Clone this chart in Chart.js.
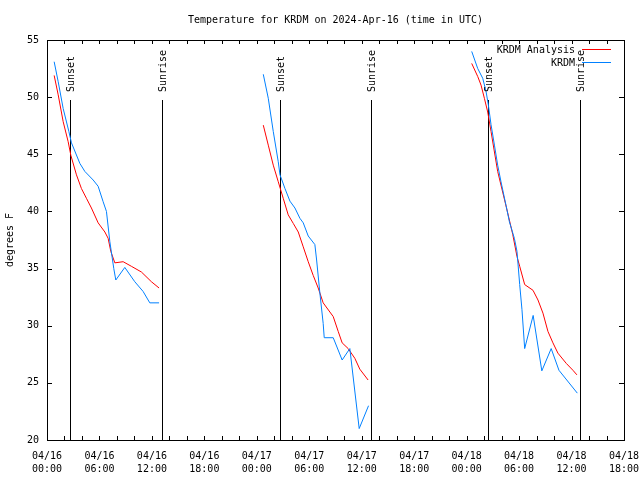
<!DOCTYPE html>
<html>
<head>
<meta charset="utf-8">
<script src="https://cdn.jsdelivr.net/npm/chart.js@4.4.1/dist/chart.umd.min.js"></script>
<style>
  html, body { margin: 0; padding: 0; background: #fff; }
  canvas { display: block; }
</style>
</head>
<body>
<canvas id="tempChart" width="640" height="480"></canvas>
<script>
// hours since 04/16 00:00 UTC, null = gap between nights
const analysisHours = [0.82, 1.28, 1.85, 2.42, 2.73, 3.37, 3.94, 4.51, 5.08, 5.85, 6.62, 6.99, 7.30, 7.76, 8.71, 9.65, 10.80, 11.94, 12.82, 18,
    24.74, 25.31, 25.88, 26.45, 27.02, 27.59, 28.17, 28.74, 29.31, 29.88, 30.45, 31.02, 31.59, 32.74, 33.31, 33.76, 34.45, 35.21, 35.78, 36.73, 42,
    48.58, 49.27, 49.65, 50.03, 50.41, 50.79, 51.18, 51.55, 52.12, 52.69, 53.27, 53.76, 54.07, 54.64, 55.59, 56.16, 56.73, 57.30, 57.87, 58.44, 59.40, 60.16, 60.61]
const analysisTemps = [51.9, 50.2, 47.85, 46.1, 44.9, 43.2, 42.0, 41.15, 40.3, 39.0, 38.2, 37.65, 36.5, 35.5, 35.6, 35.2, 34.7, 33.85, 33.3, null,
    47.55, 45.8, 44.05, 42.6, 41.15, 39.7, 38.95, 38.2, 36.9, 35.6, 34.4, 33.3, 32.0, 30.8, 29.5, 28.5, 28.0, 27.15, 26.2, 25.25, null,
    52.95, 51.8, 51.05, 49.9, 48.7, 47.0, 45.2, 43.5, 41.7, 39.9, 38.0, 36.05, 35.2, 33.6, 33.1, 32.25, 31.1, 29.5, 28.5, 27.6, 26.7, 26.1, 25.7]

const obsHours = [0.82, 1.28, 1.85, 2.50, 2.80, 3.76, 4.33, 5.28, 5.85, 6.42, 6.80, 7.19, 7.64, 7.87, 8.90, 10.04, 10.99, 11.76, 12.82, 18,
    24.74, 25.31, 25.88, 26.45, 26.65, 27.22, 27.79, 28.36, 28.93, 29.31, 29.88, 30.64, 30.84, 31.22, 31.59, 31.71, 32.74, 33.76, 34.64, 35.71, 36.78, 42,
    48.58, 49.27, 49.84, 50.22, 50.49, 50.79, 51.18, 51.55, 51.93, 52.50, 52.89, 53.46, 53.76, 54.07, 54.33, 54.64, 55.61, 56.60, 57.67, 58.56, 60.66]
const obsTemps = [53.1, 51.35, 49.0, 47.0, 46.0, 44.2, 43.5, 42.75, 42.2, 40.85, 40.0, 37.35, 35.0, 34.0, 35.1, 33.85, 33.0, 32.0, 32.0, null,
    52.0, 49.9, 47.0, 44.35, 43.2, 42.0, 40.9, 40.3, 39.4, 39.0, 37.85, 37.1, 35.75, 32.8, 30.2, 28.95, 28.95, 27.0, 28.0, 21.0, 23.0, null,
    54.0, 52.5, 51.65, 50.5, 49.3, 47.6, 45.8, 44.05, 42.6, 40.55, 39.1, 37.65, 36.5, 33.6, 31.4, 28.0, 30.9, 26.05, 28.0, 26.1, 24.1]

const sunHours = [2.65, 13.17, 26.6, 37.1, 50.5, 61.0]
const sunLabels = ['Sunset', 'Sunrise', 'Sunset', 'Sunrise', 'Sunset', 'Sunrise']
const sunLineTop = 49.75

const labelHours = [0, 6, 12, 18, 24, 30, 36, 42, 48, 54, 60, 66]
const labelDates = ['04/16', '04/16', '04/16', '04/16', '04/17', '04/17', '04/17', '04/17', '04/18', '04/18', '04/18', '04/18']
const labelTimes = ['00:00', '06:00', '12:00', '18:00', '00:00', '06:00', '12:00', '18:00', '00:00', '06:00', '12:00', '18:00']
const minorStep = 2

const yMin = 20
const yMax = 55
const yStep = 5

const titleText = 'Temperature for KRDM on 2024-Apr-16 (time in UTC)'
const FONT = '"DejaVu Sans Mono", "Liberation Mono", monospace'

function toPoints(hours, temps) {
    return hours.map((h, i) => ({ x: h, y: temps[i] }))
}

let datasets = [
    {
        label: 'KRDM Analysis', data: toPoints(analysisHours, analysisTemps),
        borderColor: '#ff0000', borderWidth: 1, order: 1
    },
    {
        label: 'KRDM', data: toPoints(obsHours, obsTemps),
        borderColor: '#0080ff', borderWidth: 1, order: 0
    }
]

const gnuplotFrame = {
    id: 'gnuplotFrame',
    beforeDatasetsDraw(chart) {
        // sunset / sunrise markers, snapped to whole pixels
        let { ctx, scales } = chart
        let xs = scales.x, ys = scales.y
        let yBottom = ys.getPixelForValue(yMin)
        let yTop = Math.round(ys.getPixelForValue(sunLineTop))
        ctx.save()
        ctx.strokeStyle = '#000'
        ctx.lineWidth = 1
        ctx.beginPath()
        sunHours.forEach((h) => {
            let px = Math.round(xs.getPixelForValue(h)) + 0.5
            ctx.moveTo(px, yBottom)
            ctx.lineTo(px, yTop)
        })
        ctx.stroke()
        ctx.restore()
    },
    afterDatasetsDraw(chart) {
        let { ctx, chartArea: a, scales } = chart
        let xs = scales.x, ys = scales.y
        ctx.save()
        ctx.strokeStyle = '#000'
        ctx.lineWidth = 1

        // border
        ctx.strokeRect(Math.round(a.left) + 0.5, Math.round(a.top) + 0.5,
            Math.round(a.right - a.left), Math.round(a.bottom - a.top))

        // inward ticks, mirrored
        ctx.beginPath()
        for (let h = xs.min; h <= xs.max; h += minorStep) {
            let px = Math.round(xs.getPixelForValue(h)) + 0.5
            ctx.moveTo(px, a.bottom); ctx.lineTo(px, a.bottom - 4)
            ctx.moveTo(px, a.top); ctx.lineTo(px, a.top + 4)
        }
        for (let v = yMin; v <= yMax; v += yStep) {
            let py = Math.round(ys.getPixelForValue(v)) + 0.5
            ctx.moveTo(a.left, py); ctx.lineTo(a.left + 5, py)
            ctx.moveTo(a.right, py); ctx.lineTo(a.right - 5, py)
        }
        ctx.stroke()

        ctx.fillStyle = '#000'
        ctx.font = '10px ' + FONT

        sunHours.forEach((h, i) => {
            let px = Math.round(xs.getPixelForValue(h))
            ctx.save()
            ctx.translate(px + 1, 92)
            ctx.rotate(-Math.PI / 2)
            ctx.textAlign = 'left'
            ctx.textBaseline = 'middle'
            ctx.fillText(sunLabels[i], 0, 0)
            ctx.restore()
        })

        // title
        ctx.textAlign = 'center'
        ctx.textBaseline = 'middle'
        ctx.fillText(titleText, (a.left + a.right) / 2, 20)

        // legend, gnuplot style: text then line sample
        chart.data.datasets.forEach((d, i) => {
            let y = 50 + i * 13
            ctx.textAlign = 'right'
            ctx.fillText(d.label, 575, y)
            ctx.strokeStyle = d.borderColor
            ctx.beginPath()
            ctx.moveTo(582, Math.round(y) - 0.5)
            ctx.lineTo(611, Math.round(y) - 0.5)
            ctx.stroke()
        })
        ctx.restore()
    }
}

let ctx = document.getElementById('tempChart').getContext('2d')
let chart = new Chart(ctx, {
    type: 'line',
    data: { datasets: datasets },
    options: {
        responsive: false,
        animation: false,
        devicePixelRatio: 1,
        spanGaps: false,
        elements: {
            point: { radius: 0 },
            line: { tension: 0, fill: false }
        },
        layout: { padding: { left: 0, right: 16, top: 40, bottom: 0 } },
        plugins: {
            legend: { display: false },
            title: { display: false },
            tooltip: { enabled: false }
        },
        scales: {
            x: {
                type: 'linear',
                min: 0,
                max: 66,
                afterBuildTicks: (scale) => {
                    scale.ticks = labelHours.map(h => ({ value: h }))
                },
                ticks: {
                    autoSkip: false,
                    maxRotation: 0,
                    padding: 10,
                    color: '#000',
                    font: { family: FONT, size: 10, lineHeight: 1.27 },
                    callback: (value) => {
                        let i = labelHours.indexOf(value)
                        return i < 0 ? '' : [labelDates[i], labelTimes[i]]
                    }
                },
                grid: { display: false, drawTicks: false },
                border: { display: false },
                afterFit: (scale) => {
                    scale.height = 40
                    scale.paddingLeft = 0
                    scale.paddingRight = 0
                }
            },
            y: {
                min: yMin,
                max: yMax,
                ticks: {
                    stepSize: yStep,
                    padding: 8,
                    color: '#000',
                    font: { family: FONT, size: 10 }
                },
                title: {
                    display: true,
                    text: 'degrees F',
                    color: '#000',
                    padding: { top: 4, bottom: 0 },
                    font: { family: FONT, size: 10 }
                },
                grid: { display: false, drawTicks: false },
                border: { display: false },
                afterFit: (scale) => {
                    scale.width = 47
                    scale.paddingTop = 0
                    scale.paddingBottom = 0
                }
            }
        }
    },
    plugins: [gnuplotFrame]
})
</script>
</body>
</html>
